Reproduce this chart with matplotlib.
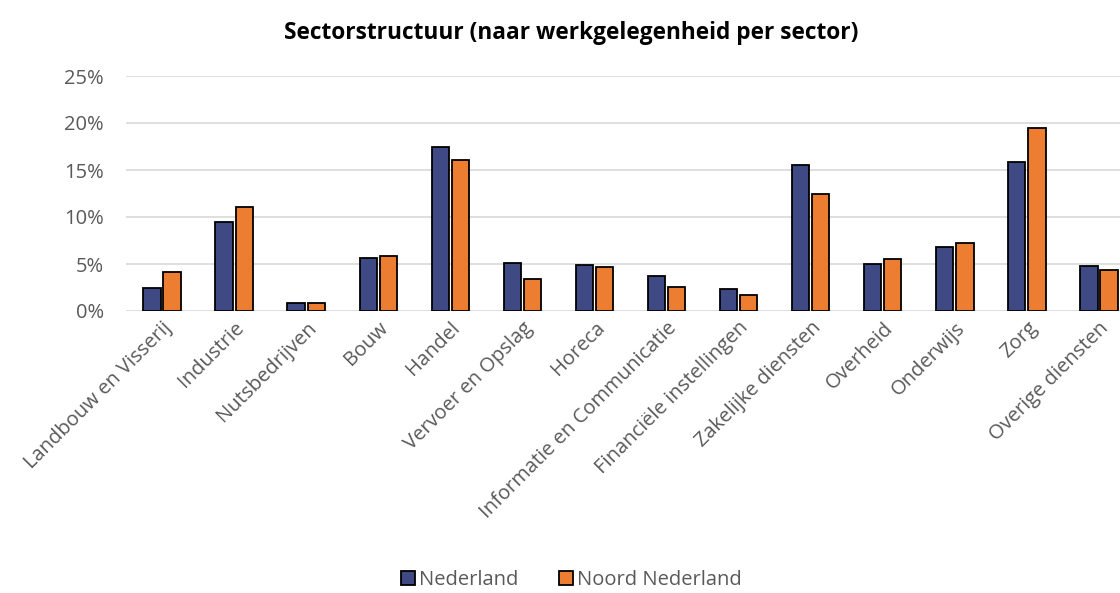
import matplotlib.pyplot as plt
import numpy as np
from matplotlib.ticker import PercentFormatter

plt.rcParams['font.family'] = ['Open Sans', 'DejaVu Sans']

sectoren = ['Landbouw en Visserij', 'Industrie', 'Nutsbedrijven', 'Bouw', 'Handel',
            'Vervoer en Opslag', 'Horeca', 'Informatie en Communicatie',
            'Financiële instellingen', 'Zakelijke diensten', 'Overheid', 'Onderwijs',
            'Zorg', 'Overige diensten']
nederland = [2.5, 9.5, 0.8, 5.6, 17.4, 5.1, 4.9, 3.7, 2.3, 15.5, 5.0, 6.8, 15.8, 4.8]
noord_nederland = [4.1, 11.1, 0.8, 5.8, 16.1, 3.4, 4.7, 2.6, 1.7, 12.4, 5.5, 7.2, 19.5, 4.4]

grijs = '#595959'

fig = plt.figure(figsize=(11.2, 5.93), dpi=100)
# axes loopt rechts iets buiten de figuur, zoals in het origineel
ax = fig.add_axes([126 / 1120, (593 - 311) / 593, 1009 / 1120, 235 / 593])

x = np.arange(len(sectoren))
w = 0.24
ax.bar(x - 0.14, nederland, w, color='#3F4A85', edgecolor='black', linewidth=1.3,
       label='Nederland', zorder=3)
ax.bar(x + 0.14, noord_nederland, w, color='#ED7D31', edgecolor='black', linewidth=1.3,
       label='Noord Nederland', zorder=3)

ax.set_xlim(-0.5, len(sectoren) - 0.5)
ax.set_ylim(0, 25)
ax.set_yticks(np.arange(0, 26, 5))
ax.yaxis.set_major_formatter(PercentFormatter(decimals=0))
ax.grid(axis='y', color='#d9d9d9', linewidth=1.2, zorder=0)
for s in ax.spines.values():
    s.set_visible(False)
ax.tick_params(length=0, labelsize=14.5, colors=grijs)
ax.tick_params(axis='y', pad=16)
ax.tick_params(axis='x', pad=5)

ax.set_xticks(x)
ax.set_xticklabels(sectoren, rotation=45, ha='right', rotation_mode='anchor')

fig.text(0.51, 0.945, 'Sectorstructuur (naar werkgelegenheid per sector)',
         ha='center', va='center', fontsize=16.3, fontweight='bold', color='black')

fig.legend(loc='center', bbox_to_anchor=(0.51, 0.022), ncol=2, frameon=False,
           fontsize=14.5, labelcolor=grijs, handlelength=0.7, handleheight=0.7,
           handletextpad=0.2, columnspacing=2.0)

fig.savefig('out.png', dpi=100)
